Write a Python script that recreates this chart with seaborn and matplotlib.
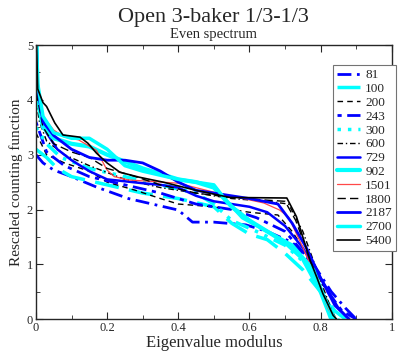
import numpy as np
import pandas as pd
import matplotlib
matplotlib.use("Agg")
import matplotlib.pyplot as plt
import seaborn as sns
from matplotlib.ticker import MultipleLocator

sns.set_style("ticks")
plt.rcParams['font.family'] = ['Liberation Serif', 'DejaVu Serif']

# eigenvalue modulus / rescaled counting function
x81 = [0, 0.02, 0.05, 0.1, 0.17, 0.26, 0.34, 0.40, 0.44, 0.5, 0.59, 0.65, 0.72, 0.78, 0.83, 0.87, 0.9]
y81 = [3.0, 2.85, 2.72, 2.6, 2.41, 2.2, 2.08, 1.99, 1.77, 1.77, 1.72, 1.6, 1.4, 1.0, 0.5, 0.2, 0.0]
x100 = [0, 0.03, 0.06, 0.1, 0.2, 0.3, 0.4, 0.5, 0.55, 0.6, 0.65, 0.7, 0.75, 0.8, 0.84, 0.87]
y100 = [3.1, 2.95, 2.75, 2.6, 2.45, 2.3, 2.2, 2.05, 1.75, 1.55, 1.45, 1.2, 0.9, 0.5, 0.15, 0.0]
x200 = [0, 0.03, 0.08, 0.15, 0.2, 0.28, 0.35, 0.4, 0.5, 0.6, 0.68, 0.72, 0.76, 0.8, 0.84]
y200 = [3.4, 3.0, 2.85, 2.7, 2.5, 2.35, 2.2, 2.1, 2.05, 1.95, 1.9, 1.6, 1.2, 0.6, 0.05]
x243 = [0, 0.03, 0.08, 0.15, 0.25, 0.35, 0.45, 0.55, 0.62, 0.7, 0.76, 0.82, 0.86, 0.9]
y243 = [3.6, 3.05, 2.8, 2.6, 2.45, 2.3, 2.1, 2.0, 1.85, 1.6, 1.15, 0.5, 0.15, 0.0]
x300 = [0, 0.03, 0.07, 0.15, 0.25, 0.35, 0.45, 0.5, 0.55, 0.62, 0.7, 0.76, 0.81, 0.85]
y300 = [3.5, 3.2, 2.95, 2.75, 2.6, 2.45, 2.3, 2.1, 1.8, 1.6, 1.35, 1.0, 0.4, 0.0]
x600 = [0, 0.01, 0.03, 0.08, 0.15, 0.25, 0.35, 0.45, 0.55, 0.65, 0.71, 0.75, 0.8, 0.84]
y600 = [4.0, 3.6, 3.25, 3.0, 2.8, 2.55, 2.4, 2.3, 2.2, 2.15, 2.1, 1.6, 0.7, 0.0]
x729 = [0, 0.01, 0.03, 0.06, 0.1, 0.15, 0.2, 0.3, 0.35, 0.4, 0.45, 0.5, 0.6, 0.65, 0.7, 0.75, 0.8, 0.85, 0.88]
y729 = [4.3, 3.9, 3.4, 3.1, 2.9, 2.7, 2.55, 2.48, 2.45, 2.4, 2.25, 2.15, 2.05, 1.95, 1.7, 1.3, 0.75, 0.2, 0.0]
x902 = [0, 0.005, 0.02, 0.05, 0.1, 0.15, 0.2, 0.3, 0.4, 0.45, 0.5, 0.55, 0.6, 0.65, 0.7, 0.75, 0.8, 0.83]
y902 = [5.5, 4.0, 3.5, 3.3, 3.2, 3.15, 3.0, 2.75, 2.55, 2.5, 2.4, 2.05, 1.8, 1.6, 1.4, 1.1, 0.5, 0.0]
x1501 = [0, 0.005, 0.02, 0.05, 0.08, 0.12, 0.17, 0.2, 0.22, 0.26, 0.4, 0.51, 0.64, 0.685, 0.71, 0.75, 0.79, 0.82, 0.84]
y1501 = [5.5, 4.2, 3.7, 3.45, 3.32, 3.27, 3.08, 2.72, 2.6, 2.54, 2.48, 2.3, 2.12, 1.99, 1.86, 1.31, 0.7, 0.2, 0.0]
x1800 = [0, 0.005, 0.02, 0.05, 0.1, 0.15, 0.2, 0.28, 0.35, 0.45, 0.55, 0.65, 0.7, 0.73, 0.77, 0.81, 0.84]
y1800 = [5.5, 4.0, 3.5, 3.2, 3.05, 2.95, 2.75, 2.6, 2.45, 2.3, 2.22, 2.17, 2.15, 1.8, 1.1, 0.4, 0.0]
x2187 = [0, 0.005, 0.02, 0.05, 0.1, 0.15, 0.2, 0.25, 0.3, 0.35, 0.4, 0.45, 0.5, 0.6, 0.68, 0.72, 0.76, 0.8, 0.84, 0.88]
y2187 = [5.5, 4.2, 3.6, 3.35, 3.1, 2.95, 2.9, 2.9, 2.85, 2.7, 2.5, 2.35, 2.3, 2.2, 2.1, 1.75, 1.3, 0.75, 0.25, 0.0]
x2700 = [0, 0.005, 0.02, 0.05, 0.1, 0.15, 0.2, 0.25, 0.3, 0.4, 0.45, 0.5, 0.53, 0.58, 0.65, 0.72, 0.78, 0.81, 0.84]
y2700 = [5.5, 4.3, 3.7, 3.4, 3.3, 3.3, 3.1, 2.8, 2.7, 2.55, 2.5, 2.45, 2.2, 1.85, 1.6, 1.35, 0.9, 0.4, 0.0]
x5400 = [0, 0.005, 0.02, 0.03, 0.053, 0.076, 0.124, 0.146, 0.17, 0.2, 0.236, 0.29, 0.357, 0.45, 0.545, 0.705, 0.732, 0.77, 0.79, 0.806, 0.835, 0.845]
y5400 = [5.5, 4.2, 3.95, 3.88, 3.58, 3.36, 3.32, 3.21, 3.03, 2.85, 2.68, 2.59, 2.5, 2.35, 2.22, 2.21, 1.87, 1.08, 0.75, 0.47, 0.07, 0.0]

labels = ["81", "100", "200", "243", "300", "600", "729", "902", "1501", "1800", "2187", "2700", "5400"]
xs = [x81, x100, x200, x243, x300, x600, x729, x902, x1501, x1800, x2187, x2700, x5400]
ys = [y81, y100, y200, y243, y300, y600, y729, y902, y1501, y1800, y2187, y2700, y5400]

styles = [
    ("blue", 2.0, (0, (5, 2, 1, 2))),
    ("cyan", 2.5, (0, (7, 3))),
    ("black", 1.0, (0, (4, 3))),
    ("blue", 2.0, (0, (1.5, 2, 5, 2))),
    ("cyan", 2.5, (0, (1, 2, 1, 2, 4, 2))),
    ("black", 1.0, (0, (4, 2, 1, 2))),
    ("blue", 1.8, "-"),
    ("cyan", 3.0, "-"),
    ("#ff4848", 0.9, "-"),
    ("black", 1.0, (0, (6, 3))),
    ("blue", 2.0, "-"),
    ("cyan", 2.5, "-"),
    ("black", 1.2, "-"),
]

fig = plt.figure(figsize=(3.99, 3.55), dpi=100)
ax = fig.add_axes([0.090, 0.101, 0.892, 0.772])

for lab, x, y, (c, lw, ls) in zip(labels, xs, ys, styles):
    df = pd.DataFrame({"x": x, "y": y})
    sns.lineplot(data=df, x="x", y="y", ax=ax, color=c, lw=lw, linestyle=ls,
                 label=lab, estimator=None, sort=False)

ax.set_xlim(0, 1)
ax.set_ylim(0, 5)
ax.xaxis.set_minor_locator(MultipleLocator(0.1))
ax.yaxis.set_major_locator(MultipleLocator(1))
ax.yaxis.set_minor_locator(MultipleLocator(0.5))
ax.set_xticks([0, 0.2, 0.4, 0.6, 0.8, 1.0])
ax.set_xticklabels(["0", "0.2", "0.4", "0.6", "0.8", "1"])
ax.tick_params(which="both", direction="in", top=True, right=True, labelsize=9, pad=2)
ax.tick_params(which="major", length=5)
ax.tick_params(which="minor", length=3)
for s in ax.spines.values():
    s.set_linewidth(1.0)

ax.set_xlabel("Eigenvalue modulus", fontsize=12, labelpad=1)
ax.set_ylabel("Rescaled counting function", fontsize=11, labelpad=3)

fig.text(0.535, 0.950, "Open 3-baker 1/3-1/3", ha="center", va="center", fontsize=16)
fig.text(0.535, 0.903, "Even spectrum", ha="center", va="center", fontsize=10.5)

leg = ax.legend(loc="upper right", bbox_to_anchor=(1.011, 0.927), fontsize=9.5,
                frameon=True, fancybox=False, edgecolor="0.45", framealpha=1,
                handlelength=1.7, handletextpad=0.4, labelspacing=0.12,
                borderpad=0.3, borderaxespad=0)
leg.get_frame().set_linewidth(0.8)

fig.savefig("out.png", dpi=100)
